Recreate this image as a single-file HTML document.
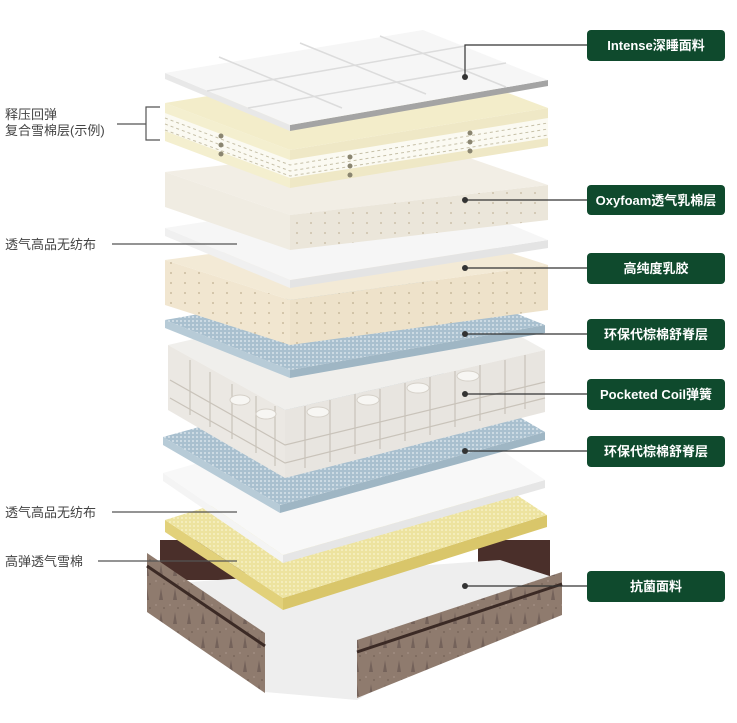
<!DOCTYPE html>
<html><head><meta charset="utf-8"><style>
html,body{margin:0;padding:0;background:#fff;}
svg{display:block}
text{font-family:"Liberation Sans","Noto Sans CJK SC",sans-serif;}
</style></head><body>
<svg width="737" height="723" viewBox="0 0 737 723" xmlns="http://www.w3.org/2000/svg">
<defs>
<pattern id="dots" width="14" height="10" patternUnits="userSpaceOnUse"><circle cx="3" cy="3" r="1" fill="#b9a98a"/></pattern>
<pattern id="spk" width="4" height="4" patternUnits="userSpaceOnUse"><rect width="4" height="4" fill="#a9c0cf"/><circle cx="1" cy="1" r="1" fill="#d7e3ea"/></pattern>
<pattern id="ysp" width="4" height="4" patternUnits="userSpaceOnUse"><rect width="4" height="4" fill="#ede39f"/><circle cx="2" cy="2" r="1" fill="#f7f0c4"/></pattern>
<pattern id="brn" width="14" height="24" patternUnits="userSpaceOnUse"><rect width="14" height="24" fill="#8f7b6e"/><path d="M5 24 L7 12 L9 24" fill="#74625a"/><circle cx="2" cy="5" r="1" fill="#a08c80"/><circle cx="10" cy="8" r="1" fill="#7a675c"/></pattern>
</defs>

<!-- base frame -->
<polygon points="160,540 245,540 245,580 160,580" fill="#4a2f2a"/>
<polygon points="478,540 550,540 550,580 478,580" fill="#4a2f2a"/>
<polygon points="190,582 500,560 562,580 357,700 265,692" fill="#eeeeee"/>
<polygon points="147,553 265,633 265,693 147,612" fill="url(#brn)"/>
<line x1="147" y1="566" x2="265" y2="646" stroke="#3b2a25" stroke-width="3"/>
<polygon points="357,640 562,572 562,615 357,698" fill="url(#brn)"/>
<line x1="357" y1="652" x2="562" y2="584" stroke="#3b2a25" stroke-width="3"/>

<!-- yellow foam -->
<polygon points="165,520 283,598 283,610 165,532" fill="#e2d17a"/>
<polygon points="283,598 547,515 547,527 283,610" fill="#d9c66a"/>
<polygon points="165,520 283,598 547,515 429,437" fill="url(#ysp)"/>

<!-- white nonwoven 2 -->
<polygon points="163,473 283,555 283,563 163,481" fill="#f4f4f4"/>
<polygon points="283,555 545,480 545,488 283,563" fill="#e6e6e6"/>
<polygon points="163,473 283,555 545,480 425,398" fill="#f8f8f8"/>

<!-- blue 2 -->
<polygon points="163,437 280,505 280,513 163,445" fill="#b7cbd7"/>
<polygon points="280,505 545,432 545,440 280,513" fill="#9fb6c4"/>
<polygon points="163,437 280,505 545,432 428,364" fill="url(#spk)"/>

<!-- springs -->
<polygon points="168,345 285,410 545,350 428,285" fill="#f0efec"/>
<polygon points="168,345 285,410 285,478 168,410" fill="#ebe8e3"/>
<polygon points="285,410 545,350 545,412 285,478" fill="#e8e5e0"/>
<g stroke="#c9c3ba" stroke-width="1.2" fill="none">
<path d="M190,360 v55 M210,372 v55 M232,384 v55 M256,396 v57 M275,406 v60 M305,406 v62 M330,400 v62 M355,394 v60 M380,389 v60 M405,383 v58 M430,377 v58 M455,371 v56 M480,365 v56 M505,360 v54 M525,355 v54"/>
<path d="M170,380 L285,445 L545,382 M170,398 L285,463 L545,398"/>
</g>
<g fill="#f7f6f3" stroke="#d5d0c8" stroke-width="1">
<ellipse cx="240" cy="400" rx="10" ry="5"/><ellipse cx="266" cy="414" rx="10" ry="5"/><ellipse cx="318" cy="412" rx="11" ry="5"/><ellipse cx="368" cy="400" rx="11" ry="5"/><ellipse cx="418" cy="388" rx="11" ry="5"/><ellipse cx="468" cy="376" rx="11" ry="5"/>
</g>

<!-- blue 1 -->
<polygon points="165,320 290,370 290,378 165,328" fill="#b7cbd7"/>
<polygon points="290,370 545,325 545,333 290,378" fill="#9fb6c4"/>
<polygon points="165,320 290,370 545,325 420,275" fill="url(#spk)"/>

<!-- latex -->
<polygon points="165,260 290,300 290,345 165,305" fill="#f1e6d0"/>
<polygon points="290,300 548,265 548,310 290,345" fill="#eee2ca"/>
<polygon points="165,260 290,300 548,265 423,225" fill="#f3ead6"/>
<polygon points="165,260 290,300 290,345 165,305" fill="url(#dots)" opacity=".7"/>
<polygon points="290,300 548,265 548,310 290,345" fill="url(#dots)" opacity=".7"/>

<!-- white nonwoven 1 -->
<polygon points="165,228 290,280 290,288 165,236" fill="#f0f0f0"/>
<polygon points="290,280 548,240 548,248 290,288" fill="#e4e4e4"/>
<polygon points="165,228 290,280 548,240 423,188" fill="#f6f6f6"/>

<!-- oxyfoam -->
<polygon points="165,172 290,215 290,250 165,207" fill="#f0ece2"/>
<polygon points="290,215 548,185 548,220 290,250" fill="#ebe6da"/>
<polygon points="165,172 290,215 548,185 423,142" fill="#f2eee5"/>
<polygon points="290,215 548,185 548,220 290,250" fill="url(#dots)" opacity=".6"/>

<!-- yellow compound -->
<polygon points="165,103 290,150 290,188 165,141" fill="#f4efcf"/>
<polygon points="290,150 548,108 548,146 290,188" fill="#efe8c6"/>
<polygon points="165,103 290,150 548,108 423,61" fill="#f3edca"/>
<polygon points="165,113 290,160 548,118 548,138 290,178 165,131" fill="#fbfaf2"/>
<g stroke="#c6c0a8" stroke-width="1" stroke-dasharray="3,3" fill="none">
<path d="M165,118 L290,165 L548,123 M165,124 L290,171 L548,129 M165,130 L290,176 L548,135"/>
</g>

<!-- quilt -->
<polygon points="165,73 290,125 290,131 165,79" fill="#e8e8e8"/>
<polygon points="290,125 548,80 548,86 290,131" fill="#a4a4a4"/>
<polygon points="165,73 290,125 548,80 423,30" fill="#f6f6f6"/>
<g stroke="#dcdcdc" stroke-width="1.5" fill="none">
<path d="M207,91 L465,46 M248,108 L506,63 M219,57 L342,108 M300,43 L426,94 M380,36 L506,87"/>
</g>

<!-- dots and leaders right -->
<g stroke="#333" stroke-width="1.2" fill="none">
<polyline points="465,77 465,45 587,45"/>
<line x1="465" y1="200" x2="587" y2="200"/>
<line x1="465" y1="268" x2="587" y2="268"/>
<line x1="465" y1="334" x2="587" y2="334"/>
<line x1="465" y1="394" x2="587" y2="394"/>
<line x1="465" y1="451" x2="587" y2="451"/>
<line x1="465" y1="586" x2="587" y2="586"/>
</g>
<g fill="#333">
<circle cx="465" cy="77" r="3"/><circle cx="465" cy="200" r="3"/><circle cx="465" cy="268" r="3"/>
<circle cx="465" cy="334" r="3"/><circle cx="465" cy="394" r="3"/><circle cx="465" cy="451" r="3"/><circle cx="465" cy="586" r="3"/>
</g>
<g fill="#8a8570">
<circle cx="221" cy="136" r="2.5"/><circle cx="221" cy="145" r="2.5"/><circle cx="221" cy="154" r="2.5"/>
<circle cx="350" cy="157" r="2.5"/><circle cx="350" cy="166" r="2.5"/><circle cx="350" cy="175" r="2.5"/>
<circle cx="470" cy="133" r="2.5"/><circle cx="470" cy="142" r="2.5"/><circle cx="470" cy="151" r="2.5"/>
</g>

<!-- left labels -->
<g stroke="#555" stroke-width="1.2" fill="none">
<polyline points="160,107 146,107 146,140 160,140"/>
<line x1="117" y1="124" x2="146" y2="124"/>
<line x1="112" y1="244" x2="237" y2="244"/>
<line x1="112" y1="512" x2="237" y2="512"/>
<line x1="98" y1="561" x2="237" y2="561"/>
</g>
<g font-size="13" fill="#444">
<text x="5" y="119">释压回弹</text>
<text x="5" y="135">复合雪棉层(示例)</text>
<text x="5" y="249">透气高品无纺布</text>
<text x="5" y="517">透气高品无纺布</text>
<text x="5" y="566">高弹透气雪棉</text>
</g>

<!-- green boxes -->
<g fill="#0f4a2d">
<rect x="587" y="30" width="138" height="31" rx="4"/>
<rect x="587" y="185" width="138" height="30" rx="4"/>
<rect x="587" y="253" width="138" height="31" rx="4"/>
<rect x="587" y="319" width="138" height="31" rx="4"/>
<rect x="587" y="379" width="138" height="31" rx="4"/>
<rect x="587" y="436" width="138" height="31" rx="4"/>
<rect x="587" y="571" width="138" height="31" rx="4"/>
</g>
<g font-size="13" font-weight="bold" fill="#fff" text-anchor="middle">
<text x="656" y="50">Intense深睡面料</text>
<text x="656" y="205">Oxyfoam透气乳棉层</text>
<text x="656" y="273">高纯度乳胶</text>
<text x="656" y="339">环保代棕棉舒脊层</text>
<text x="656" y="399">Pocketed Coil弹簧</text>
<text x="656" y="456">环保代棕棉舒脊层</text>
<text x="656" y="591">抗菌面料</text>
</g>
</svg>
</body></html>
